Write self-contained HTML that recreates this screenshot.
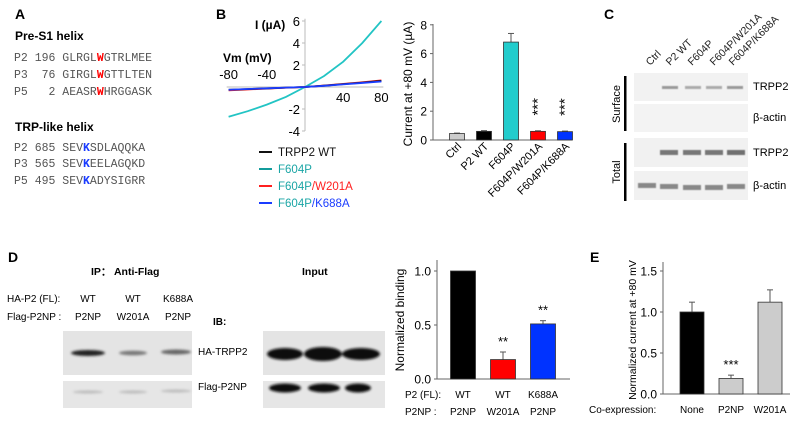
<!DOCTYPE html>
<html><head><meta charset="utf-8"><style>
body{margin:0;background:#fff}
svg{display:block;font-family:"Liberation Sans",sans-serif}
.mono{font-family:"Liberation Mono",monospace;font-size:11.5px;fill:#555}
</style></head><body>
<svg id="fig" width="800" height="425" viewBox="0 0 800 425">
<defs>
<filter id="blur1"><feGaussianBlur stdDeviation="1.2"/></filter>
<filter id="blur2"><feGaussianBlur stdDeviation="0.6"/></filter>
</defs>
<g>
<text x="15" y="19" font-size="14" font-weight="bold">A</text>
<text x="15" y="40" font-size="12" font-weight="bold">Pre-S1 helix</text>
<text class="mono" x="14" y="61" xml:space="preserve">P2 196 GLRGL<tspan fill="#f00" font-weight="bold">W</tspan>GTRLMEE</text>
<text class="mono" x="14" y="78" xml:space="preserve">P3  76 GIRGL<tspan fill="#f00" font-weight="bold">W</tspan>GTTLTEN</text>
<text class="mono" x="14" y="95" xml:space="preserve">P5   2 AEASR<tspan fill="#f00" font-weight="bold">W</tspan>HRGGASK</text>
<text x="15" y="131" font-size="12" font-weight="bold">TRP-like helix</text>
<text class="mono" x="14" y="151" xml:space="preserve">P2 685 SEV<tspan fill="#1a3cff" font-weight="bold">K</tspan>SDLAQQKA</text>
<text class="mono" x="14" y="167" xml:space="preserve">P3 565 SEV<tspan fill="#1a3cff" font-weight="bold">K</tspan>EELAGQKD</text>
<text class="mono" x="14" y="184" xml:space="preserve">P5 495 SEV<tspan fill="#1a3cff" font-weight="bold">K</tspan>ADYSIGRR</text>
</g>
<text x="216" y="19" font-size="14" font-weight="bold">B</text>
<g id="iv"></g>
<g id="barB"></g>
<g>
<text x="604" y="19" font-size="14" font-weight="bold">C</text>
<g font-size="10.5" fill="#222">
<text transform="translate(650,66) rotate(-45)">Ctrl</text>
<text transform="translate(670,66) rotate(-45)">P2 WT</text>
<text transform="translate(692,66) rotate(-45)">F604P</text>
<text transform="translate(714,66) rotate(-45)">F604P/W201A</text>
<text transform="translate(733,66) rotate(-45)">F604P/K688A</text>
</g>
<rect x="634" y="73" width="114" height="28" fill="#f2f2f2"/>
<rect x="634" y="104" width="114" height="28" fill="#f3f3f3"/>
<rect x="634" y="138" width="114" height="29" fill="#f1f1f1"/>
<rect x="634" y="171" width="114" height="29" fill="#f1f1f1"/>
<g filter="url(#blur2)">
<rect x="662" y="86" width="16" height="3" fill="#999"/><rect x="685" y="86" width="16" height="3" fill="#aaa"/><rect x="706" y="86" width="16" height="3" fill="#aaa"/><rect x="727" y="86" width="16" height="3" fill="#999"/>
<rect x="660" y="150" width="18" height="5" fill="#777"/><rect x="683" y="150" width="18" height="5" fill="#777"/><rect x="705" y="150" width="18" height="5" fill="#777"/><rect x="727" y="150" width="18" height="5" fill="#707070"/>
<rect x="638" y="183" width="18" height="5" fill="#888"/><rect x="660" y="184" width="18" height="5" fill="#888"/><rect x="683" y="185" width="18" height="5" fill="#888"/><rect x="705" y="185" width="18" height="5" fill="#888"/><rect x="727" y="184" width="18" height="5" fill="#888"/>
</g>
<rect x="624" y="76" width="2.5" height="55" fill="#000"/>
<rect x="624" y="143" width="2.5" height="58" fill="#000"/>
<text transform="translate(620,104) rotate(-90)" font-size="11" text-anchor="middle">Surface</text>
<text transform="translate(620,172) rotate(-90)" font-size="11" text-anchor="middle">Total</text>
<g font-size="11">
<text x="753" y="90">TRPP2</text>
<text x="753" y="121">β-actin</text>
<text x="753" y="156">TRPP2</text>
<text x="753" y="189">β-actin</text>
</g>
</g>
<g>
<text x="8" y="262" font-size="14" font-weight="bold">D</text>
<text x="91" y="275" font-size="10.5" font-weight="bold">IP：  Anti-Flag</text>
<text x="302" y="275" font-size="10.5" font-weight="bold">Input</text>
<g font-size="10">
<text x="7" y="302">HA-P2 (FL):</text>
<text x="7" y="320">Flag-P2NP :</text>
<text x="88" y="302" text-anchor="middle">WT</text><text x="133" y="302" text-anchor="middle">WT</text><text x="178" y="302" text-anchor="middle">K688A</text>
<text x="88" y="320" text-anchor="middle">P2NP</text><text x="133" y="320" text-anchor="middle">W201A</text><text x="178" y="320" text-anchor="middle">P2NP</text>
<text x="213" y="325" font-weight="bold">IB:</text>
<text x="198" y="355">HA-TRPP2</text>
<text x="198" y="390">Flag-P2NP</text>
</g>
<rect x="63" y="331" width="129" height="44" fill="#e4e4e4"/>
<rect x="63" y="381" width="129" height="27" fill="#e6e6e6"/>
<rect x="263" y="331" width="122" height="44" fill="#e4e4e4"/>
<rect x="263" y="381" width="122" height="27" fill="#e6e6e6"/>
<g filter="url(#blur1)">
<ellipse cx="88" cy="353" rx="17" ry="3" fill="#222"/><ellipse cx="133" cy="353" rx="14" ry="2.3" fill="#777"/><ellipse cx="176" cy="352" rx="15" ry="2.5" fill="#666"/>
<ellipse cx="88" cy="392" rx="15" ry="1.5" fill="#bbb"/><ellipse cx="133" cy="392" rx="14" ry="1.5" fill="#bbb"/><ellipse cx="176" cy="391" rx="15" ry="1.5" fill="#bbb"/>
<ellipse cx="285" cy="354" rx="18" ry="6" fill="#111"/><ellipse cx="323" cy="354" rx="19" ry="7" fill="#111"/><ellipse cx="361" cy="354" rx="19" ry="6" fill="#111"/>
<ellipse cx="285" cy="388" rx="16" ry="4.5" fill="#111"/><ellipse cx="324" cy="388" rx="16" ry="4.5" fill="#111"/><ellipse cx="358" cy="388" rx="13" ry="4.5" fill="#111"/>
</g>
</g>
<g id="barD"></g>
<text x="590" y="262" font-size="14" font-weight="bold">E</text>
<g id="barE"></g>
</svg>
<script>
const NS="http://www.w3.org/2000/svg";
function mk(p,t,a){const e=document.createElementNS(NS,t);for(const k in a)e.setAttribute(k,a[k]);p.appendChild(e);return e;}
const ivVoltages=[-80,-60,-40,-20,0,20,40,60,80];
const ivF604P=[-2.7,-2.2,-1.6,-0.9,0,1.0,2.3,4.0,6.0];
const ivWT=[-0.25,-0.19,-0.13,-0.06,0,0.12,0.26,0.4,0.55];
const ivW201A=[-0.3,-0.22,-0.15,-0.07,0,0.13,0.28,0.43,0.6];
const ivK688A=[-0.25,-0.18,-0.12,-0.06,0,0.11,0.24,0.37,0.5];
const ivYTicks=[-4,-2,2,4,6];
const ivXTicks=[-80,-40,40,80];
const bCats=["Ctrl","P2 WT","F604P","F604P/W201A","F604P/K688A"];
const bVals=[0.45,0.6,6.8,0.6,0.58];
const bErr=[0.03,0.05,0.6,0.04,0.04];
const bColors=["#cccccc","#000000","#22cccc","#ff0000","#0033ff"];
const bStars=["","","","***","***"];
const bTicks=[0,2,4,6,8];
const dP2=["WT","WT","K688A"];
const dNP=["P2NP","W201A","P2NP"];
const dVals=[1.0,0.18,0.51];
const dErr=[0,0.07,0.03];
const dColors=["#000000","#ff0000","#0033ff"];
const dStars=["","**","**"];
const dTicks=[0,0.5,1.0];
const eCats=["None","P2NP","W201A"];
const eVals=[1.0,0.19,1.12];
const eErr=[0.12,0.04,0.15];
const eColors=["#000000","#cccccc","#cccccc"];
const eStars=["","***",""];
const eTicks=[0,0.5,1.0,1.5];

(function(){
const g=document.getElementById('iv');
const X=v=>305+v*0.955, Y=i=>87-i*11;
mk(g,'line',{x1:X(-82),y1:Y(0),x2:X(82),y2:Y(0),stroke:'#bbb','stroke-width':1});
mk(g,'line',{x1:X(0),y1:Y(-4),x2:X(0),y2:Y(6.2),stroke:'#bbb','stroke-width':1});
ivYTicks.forEach(t=>{const tx=mk(g,'text',{x:X(0)-5,y:Y(t)+5,'font-size':13,'text-anchor':'end'});tx.textContent=t;


mk(g,'line',{x1:X(0)-3,y1:Y(t),x2:X(0),y2:Y(t),stroke:'#bbb'});});
ivXTicks.forEach(t=>{const tx=mk(g,'text',{x:X(t),y:t<0?Y(0)-8:Y(0)+15,'font-size':13,'text-anchor':'middle'});tx.textContent=t;

});
let t=mk(g,'text',{x:255,y:29,'font-size':12,'font-weight':'bold'});t.textContent='I (µA)';


t=mk(g,'text',{x:223,y:62,'font-size':12,'font-weight':'bold'});t.textContent='Vm (mV)';


const series=[[ivF604P,'#22c4c4','iv-line-f604p'],[ivW201A,'#ff2020','iv-line-w201a'],[ivWT,'#111','iv-line-wt'],[ivK688A,'#1a3cff','iv-line-k688a']];
series.forEach(([d,c,n])=>{const p=mk(g,'polyline',{points:ivVoltages.map((v,i)=>X(v)+','+Y(d[i])).join(' '),fill:'none',stroke:c,'stroke-width':1.8});

});
const leg=[['#111','TRPP2 WT',null],['#139c9c','F604P',null],['#ff2020','F604P','/W201A'],['#1a3cff','F604P','/K688A']];
leg.forEach((l,i)=>{const y=152+i*17;const e=mk(g,'g',{});


mk(e,'line',{x1:259,y1:y,x2:272,y2:y,stroke:l[0],'stroke-width':2});
const tx=mk(e,'text',{x:278,y:y+4,'font-size':11.5,fill:i==0?'#111':'#1aa5a5'});tx.textContent=l[1];
if(l[2]){const s=mk(tx,'tspan',{fill:l[0]});s.textContent=l[2];}});
})();

function barChart(gid,o){
const g=document.getElementById(gid);
const Y=v=>o.y0-v*o.sy;
mk(g,'line',{x1:o.ax,y1:o.yTop,x2:o.ax,y2:o.y0,stroke:'#666'});
mk(g,'line',{x1:o.ax,y1:o.y0,x2:o.xEnd,y2:o.y0,stroke:'#666'});
o.ticks.forEach(t=>{mk(g,'line',{x1:o.ax-3,y1:Y(t),x2:o.ax,y2:Y(t),stroke:'#666'});
const tx=mk(g,'text',{x:o.ax-6,y:Y(t)+4.5,'font-size':12,'text-anchor':'end'});tx.textContent=o.fmt(t);

});
o.vals.forEach((v,i)=>{const cx=o.ax+o.first+i*o.step;
if(o.err[i]>0){mk(g,'line',{x1:cx,y1:Y(v),x2:cx,y2:Y(v+o.err[i]),stroke:'#555'});
mk(g,'line',{x1:cx-3,y1:Y(v+o.err[i]),x2:cx+3,y2:Y(v+o.err[i]),stroke:'#555'});}
const r=mk(g,'rect',{x:cx-o.bw/2,y:Y(v),width:o.bw,height:o.y0-Y(v),fill:o.colors[i],stroke:'#333','stroke-width':0.8});


if(o.stars[i]){const ys=Y(v+o.err[i])-o.starGap;let s;
if(o.starRot){s=mk(g,'text',{x:cx,y:ys,'font-size':15,'text-anchor':'middle','dominant-baseline':'central',transform:`rotate(-90 ${cx} ${ys})`});}
else{s=mk(g,'text',{x:cx,y:ys,'font-size':13,'text-anchor':'middle'});}
s.textContent=o.stars[i];

}
if(o.labels)o.labels(g,cx,i);
});
const tt=mk(g,'text',{transform:`translate(${o.titleX},${o.titleY}) rotate(-90)`,'font-size':o.titleSize||12,'text-anchor':'middle'});tt.textContent=o.title;


}
barChart('barB',{ax:433,y0:140,sy:14.4,yTop:24,xEnd:572,first:24,step:27,bw:15,vals:bVals,err:bErr,colors:bColors,stars:bStars,starRot:true,starGap:24,
ticks:bTicks,fmt:t=>t,title:'Current at +80 mV (µA)',titleX:412,titleY:84,
labels:(g,cx,i)=>{const tx=mk(g,'text',{transform:`translate(${cx+5},${147}) rotate(-45)`,'font-size':11,'text-anchor':'end'});tx.textContent=bCats[i];

}});
barChart('barD',{ax:437,y0:379,sy:108,yTop:260,xEnd:570,first:26,step:40,bw:25,vals:dVals,err:dErr,colors:dColors,stars:dStars,starGap:6,
ticks:dTicks,fmt:t=>t.toFixed(1),title:'Normalized binding',titleX:404,titleY:320,
labels:(g,cx,i)=>{let tx=mk(g,'text',{x:cx,y:398,'font-size':10,'text-anchor':'middle'});tx.textContent=dP2[i];


tx=mk(g,'text',{x:cx,y:415,'font-size':10,'text-anchor':'middle'});tx.textContent=dNP[i];

}});
barChart('barE',{ax:663,y0:394,sy:82,yTop:262,xEnd:790,first:29,step:39,bw:24,vals:eVals,err:eErr,colors:eColors,stars:eStars,starGap:6,
ticks:eTicks,fmt:t=>t.toFixed(1),title:'Normalized current at +80 mV',titleX:636,titleY:330,titleSize:10.5,
labels:(g,cx,i)=>{const tx=mk(g,'text',{x:cx,y:413,'font-size':10,'text-anchor':'middle'});tx.textContent=eCats[i];

}});
(function(){const g=document.getElementById('barD');
let t=mk(g,'text',{x:405,y:398,'font-size':10});t.textContent='P2 (FL):';


t=mk(g,'text',{x:405,y:415,'font-size':10});t.textContent='P2NP :';


const e=document.getElementById('barE');
t=mk(e,'text',{x:589,y:413,'font-size':10});t.textContent='Co-expression:';

})();
</script>
</body></html>
